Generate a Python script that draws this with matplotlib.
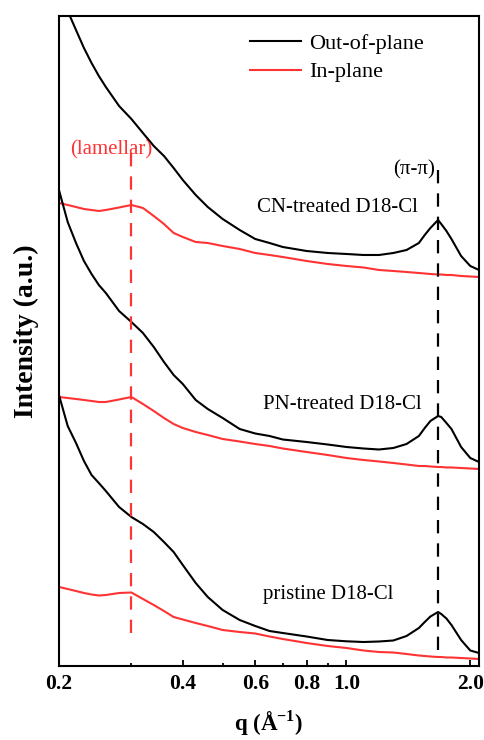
import matplotlib
matplotlib.use("Agg")
import matplotlib.pyplot as plt
from matplotlib.ticker import FixedLocator, FixedFormatter, NullFormatter

plt.rcParams["font.family"] = ["Liberation Serif", "DejaVu Serif"]
plt.rcParams["mathtext.fontset"] = "custom"
plt.rcParams["mathtext.rm"] = "Liberation Serif"
plt.rcParams["mathtext.bf"] = "Liberation Serif:bold"

# ── Data (q in 1/Å, intensity in arbitrary offset units) ────────────────────
q = [0.20, 0.21, 0.22, 0.23, 0.24, 0.25, 0.26, 0.28, 0.30, 0.32, 0.34, 0.36,
     0.38, 0.40, 0.43, 0.46, 0.50, 0.55, 0.60, 0.65, 0.70, 0.80, 0.90, 1.0,
     1.1, 1.2, 1.3, 1.4, 1.5, 1.55, 1.6, 1.67, 1.7, 1.75, 1.8, 1.9, 2.0, 2.1]

cn_oop = [676, 655, 636, 618, 603, 590, 579, 560, 547, 533, 520, 510, 498, 486,
          471, 459, 447, 436, 427, 423, 419, 415, 413, 412, 411, 411, 413, 416,
          423, 431, 438, 446, 442, 435, 427, 410, 400, 396]
cn_ip = [463, 461, 459, 457, 456, 455, 456, 458.5, 461, 458, 450, 442, 433, 429,
         424, 423, 420, 417, 413, 411, 409, 405, 402, 400, 398.5, 396, 395, 394,
         393, 392.5, 392, 391.5, 391.5, 391, 391, 390, 389.5, 389]

pn_oop = [476, 444, 423, 405, 392, 381, 373, 355, 344, 333, 319, 304, 291, 282,
          266, 257, 248, 237, 232.5, 230, 226.5, 224, 221.5, 219, 217.5, 216.5,
          218, 222, 230, 238, 245, 250, 249, 243, 237, 219, 208, 204]
pn_ip = [269, 268, 267, 266, 265, 264, 264, 266.5, 269, 262, 255, 248, 242, 238,
         234, 231, 227, 224.5, 222, 220, 217.5, 214, 211, 208, 206, 204.5, 203,
         201.5, 200, 200, 199.5, 199, 199, 198.5, 198.5, 198, 197.5, 197]

pr_oop = [271, 240, 223, 205, 191, 183, 175, 159, 149, 142, 134, 124, 114, 101,
          83, 69, 56, 46, 40, 35, 33, 29.5, 26, 24.7, 24, 24.5, 25.5, 30, 38, 44,
          49.5, 54, 52, 47.5, 41, 26, 15.5, 13]
pr_ip = [79, 77, 75, 73, 71.5, 70.5, 71, 73, 73.5, 67, 61, 55, 49, 46.5, 43, 40,
         36, 34, 32.5, 29.5, 27, 23, 20, 18, 15.5, 14, 13.5, 12, 10.5, 10, 9.5, 9,
         9, 8.5, 8.5, 8, 7.5, 7]

sample_labels = ["CN-treated D18-Cl", "PN-treated D18-Cl", "pristine D18-Cl"]
label_q = [0.607, 0.625, 0.625]
label_y = [458, 261, 71]

q_lamellar = 0.30
q_pipi = 1.67

tick_vals = [0.2, 0.4, 0.6, 0.8, 1.0, 2.0]
tick_text = ["0.2", "0.4", "0.6", "0.8", "1.0", "2.0"]
minor_vals = [0.3, 0.5, 0.7, 0.9]

RED = "#ff3333"

fig = plt.figure(figsize=(4.85, 7.4), dpi=100)
ax = fig.add_axes([0.1216, 0.1, 0.866, 0.8784])

ax.plot(q, cn_oop, color="black", lw=1.5, label="Out-of-plane")
ax.plot(q, cn_ip, color=RED, lw=1.5, label="In-plane")
ax.plot(q, pn_oop, color="black", lw=1.5)
ax.plot(q, pn_ip, color=RED, lw=1.5)
ax.plot(q, pr_oop, color="black", lw=1.5)
ax.plot(q, pr_ip, color=RED, lw=1.5)

# peak guide lines
ax.plot([q_lamellar, q_lamellar], [33, 514], color=RED, lw=1.6,
        dashes=(6, 4.5))
ax.plot([q_pipi, q_pipi], [16, 498], color="black", lw=1.6, dashes=(6, 4.5))
ax.text(0.268, 516, "(lamellar)", color=RED, fontsize=15,
        ha="center", va="center")
ax.text(q_pipi * 0.985, 496, "(π-π)", color="black", fontsize=15,
        ha="right", va="center")

for txt, xq, yv in zip(sample_labels, label_q, label_y):
    ax.text(xq, yv, txt, fontsize=15, ha="left", va="center")

ax.set_xscale("log")
ax.set_xlim(0.2, 2.1)
ax.set_ylim(0, 650)

ax.xaxis.set_major_locator(FixedLocator(tick_vals))
ax.xaxis.set_major_formatter(FixedFormatter(tick_text))
ax.xaxis.set_minor_locator(FixedLocator(minor_vals))
ax.xaxis.set_minor_formatter(NullFormatter())
ax.tick_params(axis="x", which="major", direction="in", length=4, width=1.3,
               labelsize=15.5, pad=5.5)
ax.tick_params(axis="x", which="minor", direction="in", length=2.2, width=1.3)
ax.set_yticks([])
for lab in ax.get_xticklabels():
    lab.set_fontweight("bold")
for sp in ax.spines.values():
    sp.set_linewidth(1.5)

ax.set_xlabel(r"q (Å$^{\mathbf{-1}}$)", fontsize=16.5, fontweight="bold")
ax.xaxis.set_label_coords(0.5, -0.0877)
ax.xaxis.label.set_va("center")
ax.set_ylabel("Intensity (a.u.)", fontsize=20, fontweight="bold")
ax.yaxis.set_label_coords(-0.0786, 0.515)
ax.yaxis.label.set_va("center")

ax.legend(loc="upper left", bbox_to_anchor=(0.4286, 0.99), frameon=False,
          fontsize=16, handlelength=2.3, handletextpad=0.35, borderpad=0,
          labelspacing=0.35)

fig.savefig("out.png", dpi=100)
